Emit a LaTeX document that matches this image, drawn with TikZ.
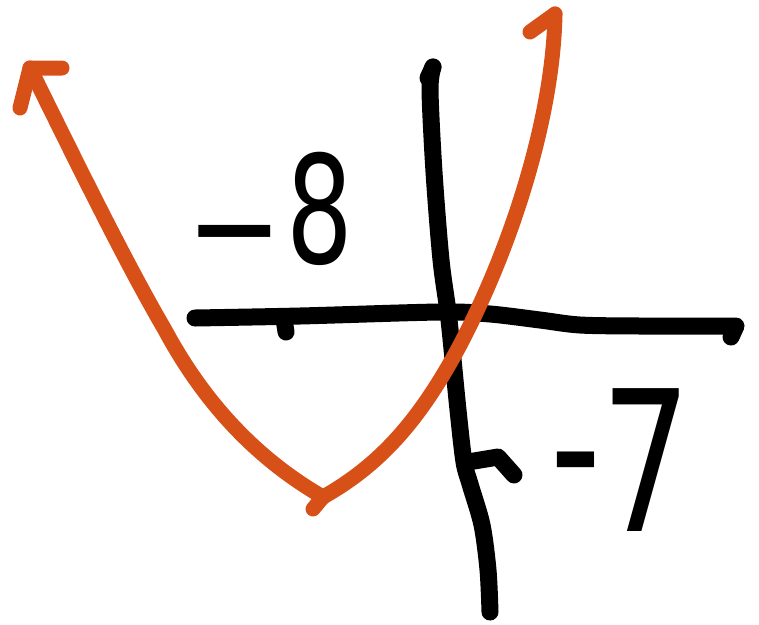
\documentclass[tikz,border=0pt]{standalone}
\usepackage{fontspec}
\newfontfamily\handfont{DejaVu Sans}
\definecolor{sketchorange}{RGB}{214,80,24}
\tikzset{
  ink/.style={line width=17pt, line cap=round, line join=round, black},
  orangeink/.style={line width=15pt, line cap=round, line join=round, sketchorange},
  lbl/.style={inner sep=0pt, text=black}
}
\begin{document}
\begin{tikzpicture}[x=1pt,y=-1pt]
\useasboundingbox (0,0) rectangle (759,624);
% horizontal axis
\draw[ink] plot[smooth, tension=0.5] coordinates {(195,318) (300,316) (440,312) (490,314) (540,320) (580,325) (640,326) (736,326)} -- (731,337);
% x tick
\draw[ink] (284,319) -- (286,332);
% vertical axis
\draw[ink] (428,78) -- (433,67);
\draw[ink] plot[smooth, tension=0.5] coordinates {(433,67) (430,90) (434,172) (441,260) (449,320) (458,410) (464,462) (470,484) (482,525) (488,570) (490,612)};
% y tick
\draw[ink] (468,462) -- (498,457) -- (514,475);
% parabola
\draw[orangeink] (30,68) .. controls (90,190) and (130,270) .. (165,330)
                 .. controls (200,395) and (250,455) .. (323,497);
\draw[orangeink] (323,497) .. controls (380,465) and (420,420) .. (460,345)
                 .. controls (510,250) and (553,120) .. (555,14);
\draw[orangeink] (323,497) -- (313,509);
% arrowheads
\draw[orangeink] (20,108) -- (30,68) -- (62,68);
\draw[orangeink] (530,32) -- (555,14);
% labels
\node[lbl, font=\handfont\fontsize{150}{150}\selectfont] (m8) at (269,212) {\scalebox{0.7}[1]{\raisebox{-9pt}{\scalebox{2.6}[1]{-}}\hspace{3.5pt}8}};
\node[lbl, font=\handfont\fontsize{196}{196}\selectfont] (m7) at (621,460) {\scalebox{0.72}[1]{\raisebox{18pt}{-}7}};
\end{tikzpicture}
\end{document}
